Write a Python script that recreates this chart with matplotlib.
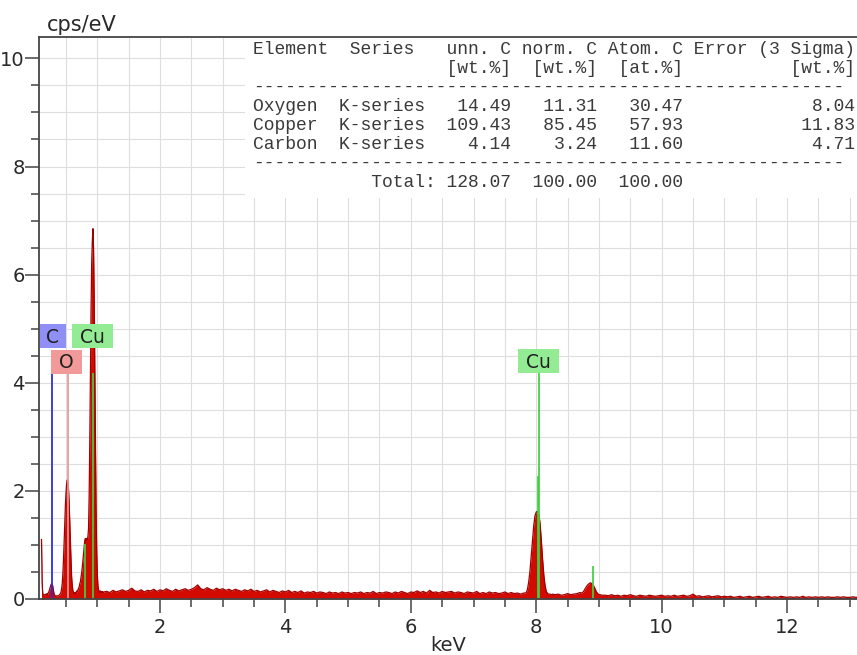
import numpy as np
import matplotlib
matplotlib.use("Agg")
import matplotlib.pyplot as plt
from matplotlib.ticker import MultipleLocator, FormatStrFormatter
from matplotlib.patches import Rectangle


# # # # # # # # # # # # # # # # # # # # # # # #
# EDS spectrum (cps/eV)
# low energy part, 0.11 .. 1.10 keV, 0.01 keV channels
counts_low = [
    1.10, 0.30, 0.10, 0.08, 0.07, 0.08, 0.07, 0.09, 0.08, 0.10,
    0.09, 0.12, 0.14, 0.18, 0.22, 0.26, 0.28, 0.27, 0.24, 0.16,
    0.10, 0.07, 0.06, 0.05, 0.06, 0.05, 0.06, 0.06, 0.07, 0.08,
    0.10, 0.12, 0.18, 0.28, 0.45, 0.70, 1.00, 1.35, 1.70, 1.95,
    2.12, 2.20, 2.18, 2.05, 1.80, 1.45, 1.05, 0.70, 0.42, 0.25,
    0.16, 0.12, 0.10, 0.12, 0.10, 0.13, 0.12, 0.16, 0.15, 0.20,
    0.22, 0.28, 0.32, 0.40, 0.48, 0.58, 0.70, 0.82, 0.95, 1.08,
    1.12, 1.05, 1.12, 1.10, 1.15, 1.30, 1.90, 2.90, 4.10, 5.30,
    6.20, 6.60, 6.85, 6.50, 5.60, 4.30, 2.90, 1.70, 0.90, 0.45,
    0.25, 0.17, 0.14, 0.12, 0.15, 0.13, 0.12, 0.14, 0.11, 0.13,
]
# background 1.15 .. 7.80 keV, 0.05 keV steps
counts_bg1 = [
    0.14, 0.12, 0.16, 0.13, 0.15, 0.17, 0.14, 0.16, 0.20, 0.15,
    0.14, 0.17, 0.13, 0.16, 0.15, 0.18, 0.14, 0.17, 0.15, 0.19,
    0.16, 0.14, 0.18, 0.15, 0.17, 0.19, 0.16, 0.18, 0.21, 0.26,
    0.19, 0.17, 0.21, 0.18, 0.16, 0.20, 0.17, 0.19, 0.16, 0.18,
    0.15, 0.18, 0.16, 0.14, 0.17, 0.15, 0.18, 0.14, 0.16, 0.13,
    0.15, 0.17, 0.13, 0.16, 0.14, 0.12, 0.15, 0.13, 0.16, 0.12,
    0.14, 0.12, 0.15, 0.11, 0.13, 0.12, 0.14, 0.11, 0.13, 0.12,
    0.10, 0.13, 0.11, 0.12, 0.10, 0.13, 0.11, 0.12, 0.10, 0.12,
    0.11, 0.13, 0.10, 0.12, 0.11, 0.14, 0.10, 0.12, 0.11, 0.13,
    0.12, 0.10, 0.13, 0.11, 0.14, 0.12, 0.10, 0.13, 0.12, 0.15,
    0.12, 0.14, 0.11, 0.16, 0.12, 0.13, 0.11, 0.14, 0.12, 0.13,
    0.14, 0.11, 0.13, 0.12, 0.10, 0.13, 0.12, 0.11, 0.14, 0.10,
    0.12, 0.10, 0.13, 0.11, 0.12, 0.10, 0.11, 0.13, 0.10, 0.12,
    0.10, 0.11, 0.09, 0.11,
]
# Cu K-alpha, 7.82 .. 8.26 keV, 0.02 keV steps
counts_cuka = [
    0.11, 0.12, 0.18, 0.32, 0.52, 0.80, 1.08, 1.36, 1.54, 1.61,
    1.62, 1.58, 1.40, 1.10, 0.75, 0.45, 0.25, 0.14, 0.10, 0.09,
    0.09, 0.08, 0.09,
]
# background 8.30 .. 8.70 keV
counts_bg2 = [0.08, 0.09, 0.07, 0.08, 0.10, 0.08, 0.09, 0.10, 0.12]
# Cu K-beta, 8.72 .. 9.04 keV
counts_cukb = [
    0.11, 0.12, 0.15, 0.19, 0.23, 0.26, 0.28, 0.30, 0.29, 0.27,
    0.23, 0.18, 0.13, 0.10, 0.08, 0.08, 0.07,
]
# background 9.10 .. 13.15 keV
counts_bg3 = [
    0.07, 0.06, 0.08, 0.06, 0.07, 0.05, 0.07, 0.06, 0.08, 0.06,
    0.05, 0.07, 0.06, 0.05, 0.07, 0.06, 0.05, 0.06, 0.07, 0.05,
    0.06, 0.05, 0.07, 0.05, 0.06, 0.07, 0.05, 0.06, 0.09, 0.05,
    0.06, 0.04, 0.05, 0.06, 0.04, 0.05, 0.06, 0.04, 0.05, 0.04,
    0.05, 0.03, 0.04, 0.05, 0.03, 0.04, 0.05, 0.03, 0.04, 0.05,
    0.03, 0.04, 0.05, 0.03, 0.04, 0.03, 0.05, 0.04, 0.03, 0.04,
    0.03, 0.04, 0.03, 0.05, 0.03, 0.04, 0.03, 0.04, 0.03, 0.04,
    0.03, 0.04, 0.03, 0.03, 0.04, 0.03, 0.04, 0.03, 0.03, 0.04,
    0.03, 0.04,
]
# (start keV, end keV) of each block of channels
segments = [(0.11, 1.10), (1.15, 7.80), (7.82, 8.26),
            (8.30, 8.70), (8.72, 9.04), (9.10, 13.15)]

# element marker lines
line_elem = ['C', 'O', 'Cu', 'Cu', 'Cu', 'Cu', 'Cu']
line_kev = [0.277, 0.525, 0.930, 0.811, 8.040, 8.028, 8.905]
line_top = [4.16, 4.16, 4.16, 1.00, 4.19, 2.25, 0.60]

# quantification table
q_element = ['Oxygen', 'Copper', 'Carbon']
q_series = ['K-series', 'K-series', 'K-series']
q_unn = [14.49, 109.43, 4.14]
q_norm = [11.31, 85.45, 3.24]
q_atom = [30.47, 57.93, 11.60]
q_err = [8.04, 11.83, 4.71]
q_total = [128.07, 100.00, 100.00]

colors = {'C': ('#8f8ff5', '#2a2ae0'),
          'O': ('#f29a9a', '#e49a9a'),
          'Cu': ('#93ec93', '#3ed23e')}

# label boxes: element, centre keV, centre cps, width keV
labels = [('C', 0.290, 4.86, 0.41), ('O', 0.504, 4.39, 0.49),
          ('Cu', 0.923, 4.86, 0.66), ('Cu', 8.040, 4.40, 0.66)]

# # # # # # # # # # # # # #
# build the channel axis
blocks = [counts_low, counts_bg1, counts_cuka, counts_bg2, counts_cukb, counts_bg3]
energy = np.concatenate([np.linspace(a, b, len(c)) for (a, b), c in zip(segments, blocks)])
counts = np.concatenate([np.array(c) for c in blocks])

W, H = 857, 655
fig = plt.figure(figsize=(W / 100, H / 100), dpi=100)
left_px, right_px, top_px, bottom_px = 39.3, 857, 37.3, 599
ax = fig.add_axes([left_px / W, 1 - bottom_px / H,
                   (right_px - left_px) / W, (bottom_px - top_px) / H])

ax.fill_between(energy, counts, 0, color='#d20a00', lw=0, zorder=1)
ax.plot(energy, counts, color='#a00000', lw=0.9, zorder=1.1)

for el, kev, top in zip(line_elem, line_kev, line_top):
    ax.plot([kev, kev], [0, top], color=colors[el][1], lw=1.4, alpha=0.9, zorder=2)

for el, xc, yc, wdt in labels:
    hgt = 0.44
    ax.add_patch(Rectangle((xc - wdt / 2, yc - hgt / 2), wdt, hgt,
                           facecolor=colors[el][0], edgecolor='none', zorder=3))
    ax.text(xc, yc - 0.02, el, ha='center', va='center', fontsize=13.5,
            color='#202020', zorder=4)

ax.set_xlim(0.075, 13.115)
ax.set_ylim(0, 10.39)

ax.xaxis.set_major_locator(MultipleLocator(2))
ax.xaxis.set_minor_locator(MultipleLocator(0.5))
ax.yaxis.set_major_locator(MultipleLocator(2))
ax.yaxis.set_minor_locator(MultipleLocator(0.5))
ax.xaxis.set_major_formatter(FormatStrFormatter('%d'))
ax.yaxis.set_major_formatter(FormatStrFormatter('%d'))
ax.grid(which='both', color='#dedede', lw=0.8)
ax.set_axisbelow(True)

ax.tick_params(which='major', length=10, width=1.1, color='#444444',
               labelsize=14, labelcolor='#2a2a2a')
ax.tick_params(which='minor', length=6, width=1.1, color='#444444')
ax.tick_params(axis='y', which='major', pad=0.5)
ax.tick_params(axis='x', which='major', pad=4)

for side in ['left', 'bottom', 'top']:
    ax.spines[side].set_color('#444444')
    ax.spines[side].set_linewidth(1.3)
ax.spines['right'].set_visible(False)

ax.set_xlabel('keV', fontsize=14, color='#2a2a2a', labelpad=-1)
fig.text(46.7 / W, 1 - 30.7 / H, 'cps/eV', fontsize=15, color='#2a2a2a',
         ha='left', va='baseline')

# white panel behind the table
box_left = (245 - left_px) / (right_px - left_px)
box_bottom = (bottom_px - 198) / (bottom_px - top_px)
ax.add_patch(Rectangle((box_left, box_bottom), 1.2, 1 - box_bottom,
                       transform=ax.transAxes, facecolor='white',
                       edgecolor='none', zorder=1.8))

dash = '-' * 55
table_lines = ["Element  Series   unn. C norm. C Atom. C Error (3 Sigma)",
               " " * 18 + "[wt.%]  [wt.%]  [at.%]" + " " * 10 + "[wt.%]",
               dash]
for el, se, u, n, a, e in zip(q_element, q_series, q_unn, q_norm, q_atom, q_err):
    table_lines.append(f"{el:<8}{se:<9}{u:>7.2f}{n:>8.2f}{a:>8.2f}{e:>16.2f}")
table_lines.append(dash)
table_lines.append(f"{'Total:':>17}{q_total[0]:>7.2f}{q_total[1]:>8.2f}{q_total[2]:>8.2f}")

for i, txt in enumerate(table_lines):
    fig.text(253.3 / W, 1 - (54 + 19 * i) / H, txt, family='Liberation Mono',
             fontsize=13, color='#3a3a3a', ha='left', va='baseline', zorder=5)

fig.savefig('out.png', dpi=100)
